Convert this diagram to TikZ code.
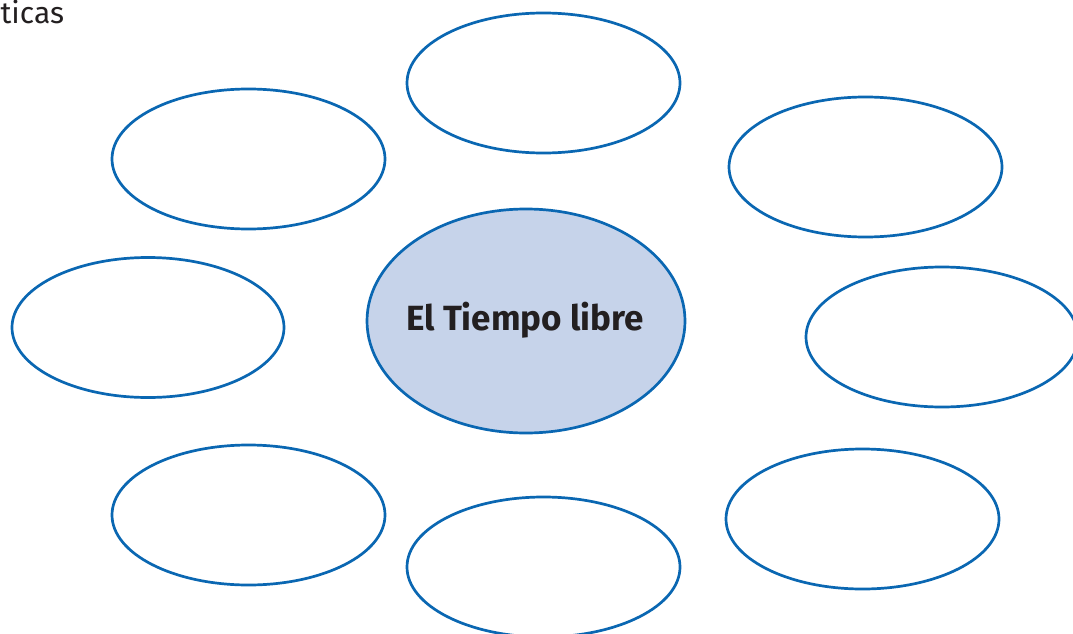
\documentclass[tikz,border=0pt]{standalone}
\usepackage{fontspec}
\setmainfont{Fira Sans}
\usetikzlibrary{shapes.geometric}
\definecolor{blueline}{HTML}{0A67B2}
\definecolor{bluefill}{HTML}{C6D3EA}
\definecolor{ink}{HTML}{231F20}
\begin{document}
\begin{tikzpicture}[x=1pt,y=-1pt,
  bubble/.style={draw=blueline,line width=2.7pt,fill=white},
  hub/.style={draw=blueline,line width=2.7pt,fill=bluefill},
  lbl/.style={inner sep=0pt,outer sep=0pt,text=ink}]
\useasboundingbox (0,0) rectangle (1073,634);
\begin{scope}
\clip (0,0) rectangle (1073,634);
\draw[bubble] (543.5,83) ellipse [x radius=136.5,y radius=70];
\draw[bubble] (248.5,159) ellipse [x radius=136.5,y radius=70];
\draw[bubble] (865.5,167) ellipse [x radius=136.5,y radius=70];
\draw[bubble] (148,327.5) ellipse [x radius=136,y radius=70];
\draw[bubble] (942,337) ellipse [x radius=136,y radius=70];
\draw[bubble] (248.5,515) ellipse [x radius=136.5,y radius=70];
\draw[bubble] (543.5,567) ellipse [x radius=136.5,y radius=70];
\draw[bubble] (862.5,519) ellipse [x radius=136.5,y radius=70];
\draw[hub] (526,321) ellipse [x radius=159,y radius=112];
\node[lbl,anchor=base,font=\bfseries\fontsize{35}{40}\selectfont] (center) at (525,330) {El Tiempo libre};
\node[lbl,anchor=base east,font=\fontsize{30}{34}\selectfont] (corner) at (64,24) {ticas};
\end{scope}
\end{tikzpicture}
\end{document}
